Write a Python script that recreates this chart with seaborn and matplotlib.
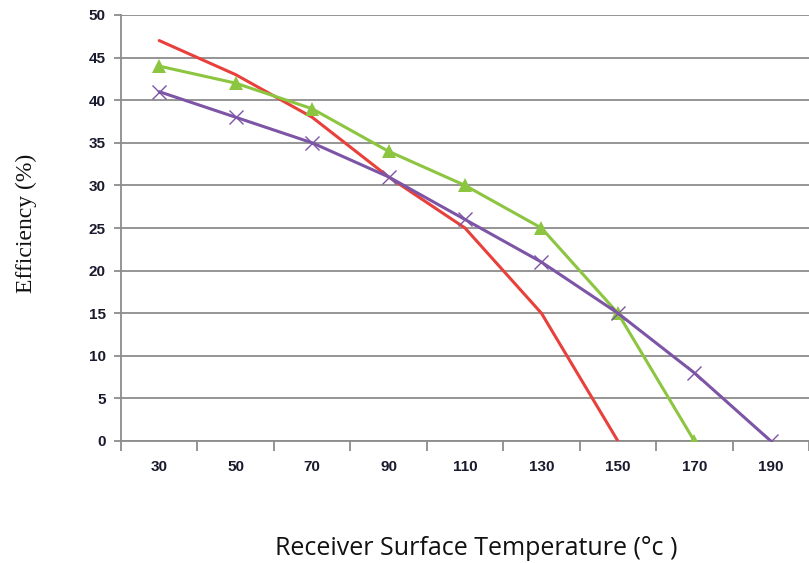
import numpy as np
import pandas as pd
import matplotlib
matplotlib.use("Agg")
import matplotlib.pyplot as plt
import seaborn as sns

temps = ["30", "50", "70", "90", "110", "130", "150", "170", "190"]
red_vals = [47, 43, 38, 31, 25, 15, 0]
green_vals = [44, 42, 39, 34, 30, 25, 15, 0]
purple_vals = [41, 38, 35, 31, 26, 21, 15, 8, 0]
y_ticks = [0, 5, 10, 15, 20, 25, 30, 35, 40, 45, 50]

sns.set_theme(style="white")
plt.rcParams['font.family'] = ['DejaVu Sans']

fig = plt.figure(figsize=(8.09, 5.63), dpi=100)
ax = fig.add_axes([121/809, 1 - 441/563, 1 - 121/809, (441 - 15)/563])

series = [
    (red_vals, "#e8403a", None),
    (green_vals, "#8cc540", "^"),
    (purple_vals, "#7d55a6", "x"),
]
for vals, col, mk in series:
    xs = np.arange(len(vals))
    df = pd.DataFrame({"x": xs, "y": vals})
    kw = dict(color=col, linewidth=2.2, ax=ax)
    if mk == "^":
        kw.update(marker="^", markersize=10, markeredgewidth=0, markerfacecolor=col)
    elif mk == "x":
        kw.update(marker="x", markersize=10, markeredgewidth=1.0, markeredgecolor=col)
    sns.lineplot(data=df, x="x", y="y", zorder=3, **kw)

ax.set_xlim(-0.5, len(temps) - 0.5)
ax.set_ylim(0, 50)
ax.set_xticks(np.arange(len(temps)))
ax.set_xticklabels(temps)
ax.set_xticks(np.arange(len(temps) + 1) - 0.5, minor=True)
ax.set_yticks(y_ticks)
ax.set_yticklabels([str(v) for v in y_ticks])

ax.grid(False)
for v in y_ticks:
    ax.axhline(v, color="#8c8c8c", linewidth=1.3, zorder=1)

for s in ["top", "right"]:
    ax.spines[s].set_visible(False)
ax.spines["left"].set_color("#8c8c8c")
ax.spines["left"].set_linewidth(1.3)
ax.spines["bottom"].set_color("#8c8c8c")
ax.spines["bottom"].set_linewidth(1.3)

ax.tick_params(axis="x", which="major", length=0, pad=14, labelsize=11,
               labelcolor="#1a1a2e")
ax.tick_params(axis="x", which="minor", length=7, width=1.3, color="#8c8c8c",
               direction="out", bottom=True)
ax.tick_params(axis="y", which="major", length=5, width=1.3, color="#8c8c8c",
               direction="out", left=True, pad=6, labelsize=11,
               labelcolor="#1a1a2e")
for lbl in ax.get_xticklabels() + ax.get_yticklabels():
    lbl.set_fontweight("bold")
    lbl.set_family(["Liberation Sans"])

ax.set_xlabel("Receiver Surface Temperature (°c )", fontsize=18,
              family=["Open Sans", "DejaVu Sans"], color="#111111")
ax.xaxis.set_label_coords(0.517, -0.224)
ax.set_ylabel("Efficiency (%)", fontsize=17, family=["Liberation Serif"],
              color="#111111")
ax.yaxis.set_label_coords(-0.122, 0.51)

fig.savefig("out.png", dpi=100, facecolor="white")
